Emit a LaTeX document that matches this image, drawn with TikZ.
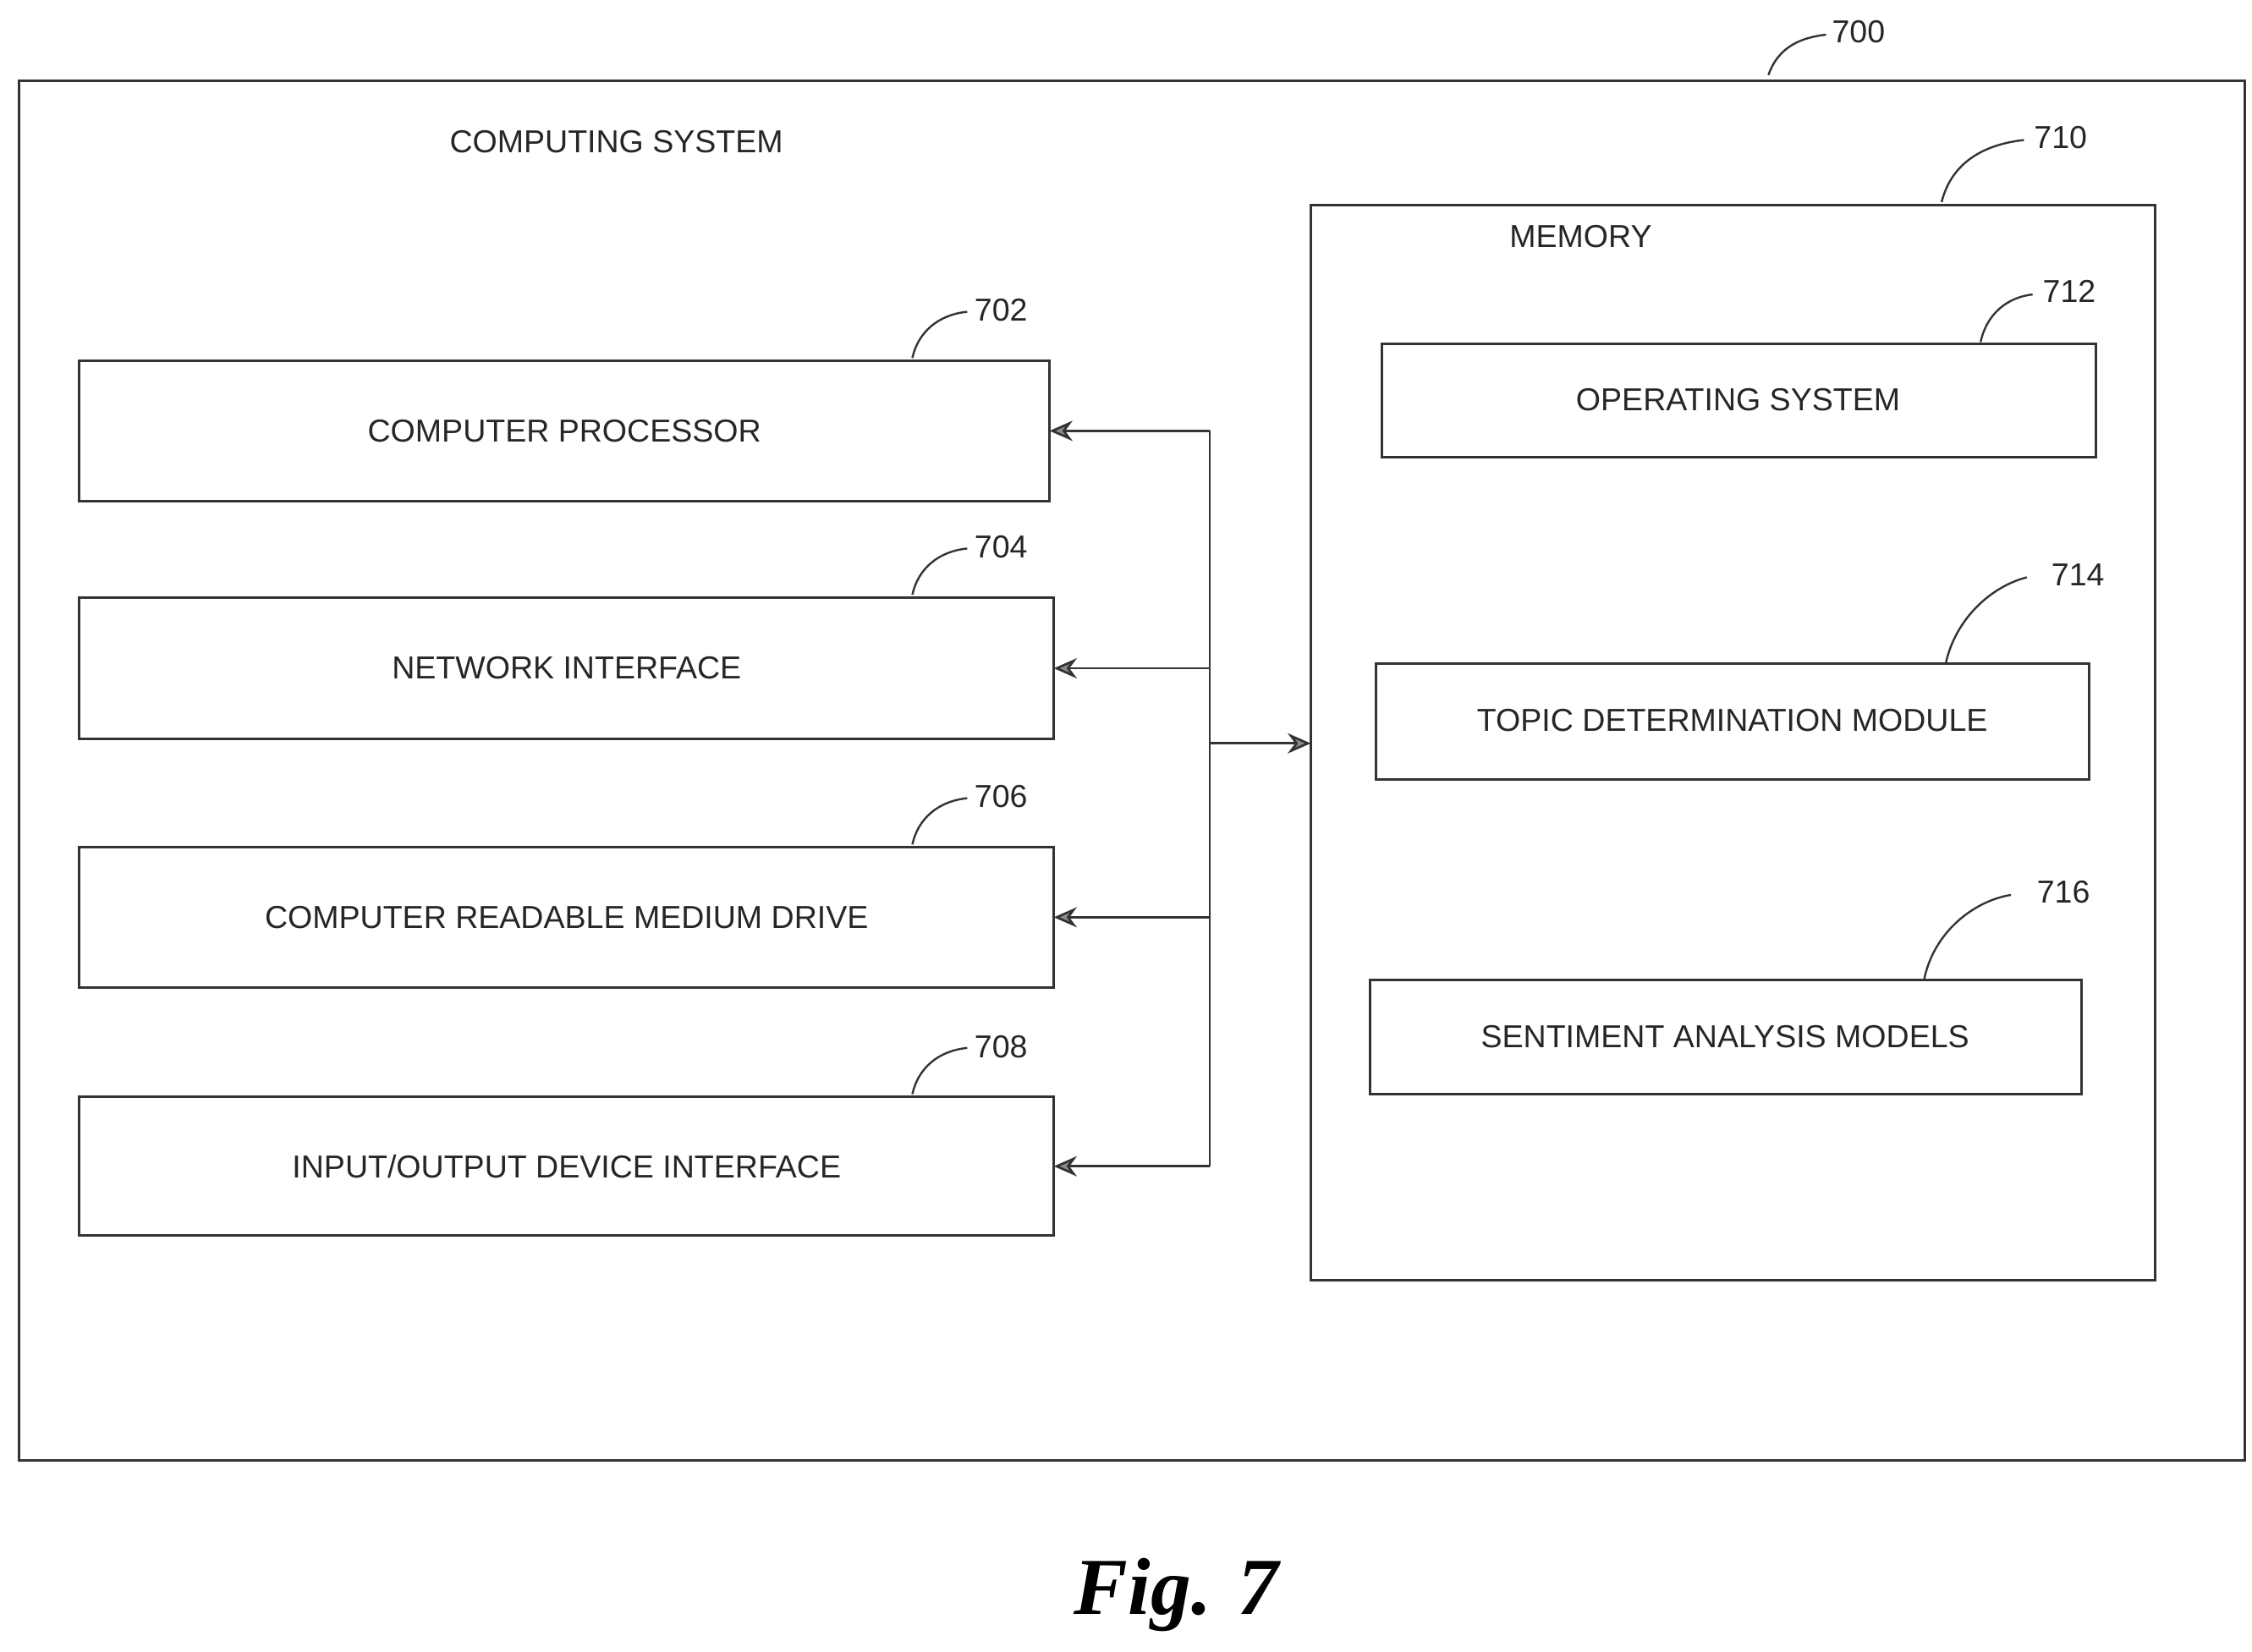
\documentclass[tikz,border=0pt]{standalone}
\usepackage{fontspec}
\setmainfont{Liberation Sans}
\newfontfamily\figfont{Liberation Serif}
\usetikzlibrary{arrows.meta}
\begin{document}
\begin{tikzpicture}[x=0.5pt,y=-0.5pt,
  box/.style={draw=black!80,line width=0.9pt},
  lbl/.style={font=\fontsize{11}{13}\selectfont,text=black!85},
  num/.style={font=\fontsize{11}{13}\selectfont,text=black!85,anchor=west},
  lead/.style={draw=black!80,line width=0.7pt},
  arr/.style={draw=black!80,line width=0.8pt,-{Stealth[length=8pt,width=7pt,fill=black!45]}}]
\useasboundingbox (0,0) rectangle (1560,1144);
\draw[box] (13,56) rectangle (1555,1012);
\node[lbl] (cs) at (427,98) {COMPUTING SYSTEM};
\node[num] (n700) at (1262,22) {700};
\draw[lead] (1225,52) .. controls (1232,32) and (1248,26) .. (1265,24);
\draw[box] (908,142) rectangle (1493,887);
\coordinate (memL) at (908,515);
\node[lbl] (mem) at (1095,164) {MEMORY};
\node[num] (n710) at (1402,95) {710};
\draw[lead] (1345,140) .. controls (1352,112) and (1375,100) .. (1402,97);
\draw[box] (957,238) rectangle (1452,317); \node[lbl] (os) at (1204,277) {OPERATING SYSTEM};
\node[num] (n712) at (1408,202) {712};
\draw[lead] (1372,237) .. controls (1376,218) and (1390,206) .. (1408,204);
\draw[box] (953,460) rectangle (1447,540); \node[lbl] (tdm) at (1200,499) {TOPIC DETERMINATION MODULE};
\node[num] (n714) at (1414,398) {714};
\draw[lead] (1348,459) .. controls (1355,428) and (1380,406) .. (1404,400);
\draw[box] (949,679) rectangle (1442,758); \node[lbl] (sam) at (1195,718) {SENTIMENT ANALYSIS MODELS};
\node[num] (n716) at (1404,618) {716};
\draw[lead] (1333,678) .. controls (1340,645) and (1368,624) .. (1393,620);
\foreach \n/\ya/\yb/\xr/\t in {702/250/347/727/{COMPUTER PROCESSOR},704/414/512/730/{NETWORK INTERFACE},706/587/684/730/{COMPUTER READABLE MEDIUM DRIVE},708/760/856/730/{INPUT/OUTPUT DEVICE INTERFACE}}{
  \draw[box] (55,\ya) rectangle (\xr,\yb);
  \node[lbl] (b\n) at ({(55+\xr)/2},{(\ya+\yb)/2}) {\t};
  \coordinate (r\n) at (\xr,{(\ya+\yb)/2});
  \node[num] (n\n) at (668,\ya-35) {\n};
  \draw[lead] (632,\ya-2) .. controls (636,\ya-20) and (650,\ya-32) .. (670,\ya-34);
}
\coordinate (t) at (838,298.5);
\coordinate (bt) at (838,808);
\draw[line width=0.8pt,black!80] (t) -- (bt);
\draw[arr] (t) -- (r702);
\draw[arr] (838,463) -- (r704);
\draw[arr] (838,635.5) -- (r706);
\draw[arr] (bt) -- (r708);
\draw[arr] (838,515) -- (memL);
\node[font=\figfont\bfseries\itshape\fontsize{28}{30}\selectfont] (fig) at (815,1105) {Fig. 7};
\end{tikzpicture}
\end{document}
